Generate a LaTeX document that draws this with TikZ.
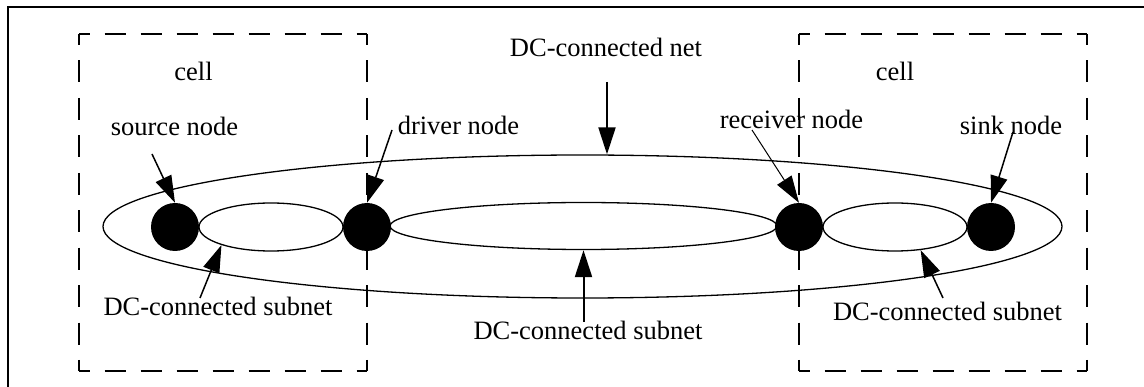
\documentclass[tikz,border=0pt]{standalone}
\usepackage{fontspec}
\setmainfont{Liberation Serif}
\usetikzlibrary{arrows.meta,shapes.geometric,calc}
\tikzset{
  lbl/.style={anchor=base, inner sep=0pt, font=\fontsize{26.5}{30}\selectfont},
  dot/.style={circle, fill=black, draw=none, minimum size=48pt, inner sep=0pt},
  ell/.style={ellipse, draw=black, line width=1.3pt, inner sep=0pt},
  arr/.style={-{Triangle[length=27pt,width=17pt]}, line width=1.5pt},
  thinarr/.style={-{Triangle[length=27pt,width=17pt]}, line width=1pt},
  hdash/.style={line width=2.3pt, dash pattern=on 21pt off 15pt, dash phase=10.5pt},
  vdash/.style={line width=2.3pt, dash pattern=on 22pt off 15.44pt, dash phase=11pt},
}
\begin{document}
\begin{tikzpicture}[x=1pt,y=-1pt]
\useasboundingbox (0,0) rectangle (1144,387);
\clip (0,0) rectangle (1144,387);
% outer frame (cropped at right and bottom)
\draw[line width=2.6pt] (8,7) rectangle (1170,410);
% cell boxes
\foreach \xa/\xb in {79/367, 799/1087}{
  \draw[hdash] (\xa,34) -- (\xb,34);
  \draw[hdash] (\xa,371) -- (\xb,371);
  \draw[vdash] (\xa,34) -- (\xa,371);
  \draw[vdash] (\xb,34) -- (\xb,371);
}
% net and subnets
\node[ell, minimum width=959pt, minimum height=143pt] (net) at (582.5,226.5) {};
\node[ell, minimum width=144pt, minimum height=48pt] (lsub) at (271,227) {};
\node[ell, minimum width=387pt, minimum height=47pt] (msub) at (583.5,226) {};
\node[ell, minimum width=144pt, minimum height=48pt] (rsub) at (895,227) {};
% nodes
\node[dot] (src) at (175,227) {};
\node[dot] (drv) at (367,227) {};
\node[dot] (rec) at (799,227) {};
\node[dot] (snk) at (991,227) {};
% labels
\node[lbl] (cellL) at (193.5,81) {cell};
\node[lbl] (cellR) at (895,81) {cell};
\node[lbl] (netlbl) at (606,57) {DC-connected net};
\node[lbl] (srclbl) at (174.5,136) {source node};
\node[lbl] (drvlbl) at (458.5,135) {driver node};
\node[lbl] (reclbl) at (791.5,129) {receiver node};
\node[lbl] (snklbl) at (1011,135) {sink node};
\node[lbl] (lsublbl) at (218,316) {DC-connected subnet};
\node[lbl] (msublbl) at (588,340) {DC-connected subnet};
\node[lbl] (rsublbl) at (947.5,321) {DC-connected subnet};
% arrow tails
\coordinate (srcT) at (152,154);
\coordinate (drvT) at (392,130);
\coordinate (recT) at (752,130);
\coordinate (snkT) at (1013,132);
\coordinate (netT) at (607,82);
\coordinate (lsubT) at (200,298);
\coordinate (msubT) at (583.5,322);
\coordinate (rsubT) at (943,298);
% arrows
\draw[arr] (srcT) -- (src.north);
\draw[arr] (drvT) -- (drv.north);
\draw[thinarr] (recT) -- (rec.north);
\draw[arr] (snkT) -- (snk.north);
\draw[arr, line width=2pt] (netT) -- (netT |- net.north);
\draw[arr] (lsubT) -- (lsub.200);
\draw[arr, line width=2pt] (msubT) -- (msub.south);
\draw[arr] (rsubT) -- (rsub.-42);
\end{tikzpicture}
\end{document}
